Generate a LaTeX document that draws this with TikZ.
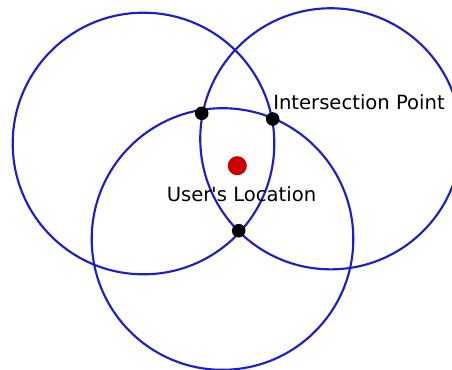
\documentclass[tikz,border=0pt]{standalone}
\usepackage{fontspec}
\newfontfamily\lblfont{DejaVu Sans}
\definecolor{ringblue}{RGB}{30,30,200}
\definecolor{userred}{RGB}{204,0,0}
\tikzset{
  ring/.style={circle, draw=ringblue, line width=1.6pt, inner sep=0pt, minimum size=#1},
  ipoint/.style={circle, fill=black, inner sep=0pt, minimum size=10.2pt},
  upoint/.style={circle, fill=userred, inner sep=0pt, minimum size=14.3pt},
  lbl/.style={font=\lblfont\fontsize{14.7pt}{16pt}\selectfont, inner sep=0pt, text=black}
}
\begin{document}
\begin{tikzpicture}[x=0.75pt,y=-0.75pt]
\useasboundingbox (0,0) rectangle (452,369);
\clip (0,0) rectangle (452,369);
\node[ring=196.2pt] (c1) at (143.5,143.5) {};
\node[ring=195.8pt] (c2) at (330.8,138.8) {};
\node[ring=196.2pt] (c3) at (222.5,239) {};
\node[ipoint] (p1) at (201.7,113.3) {};
\node[ipoint] (p2) at (272.7,119) {};
\node[ipoint] (p3) at (238.7,230.7) {};
\node[upoint] (u) at (237.3,165.7) {};
\node[lbl, anchor=base west] (tip) at (273,109) {Intersection Point};
\node[lbl, anchor=base] (tul) at (241.5,201.5) {User's Location};
\end{tikzpicture}
\end{document}
